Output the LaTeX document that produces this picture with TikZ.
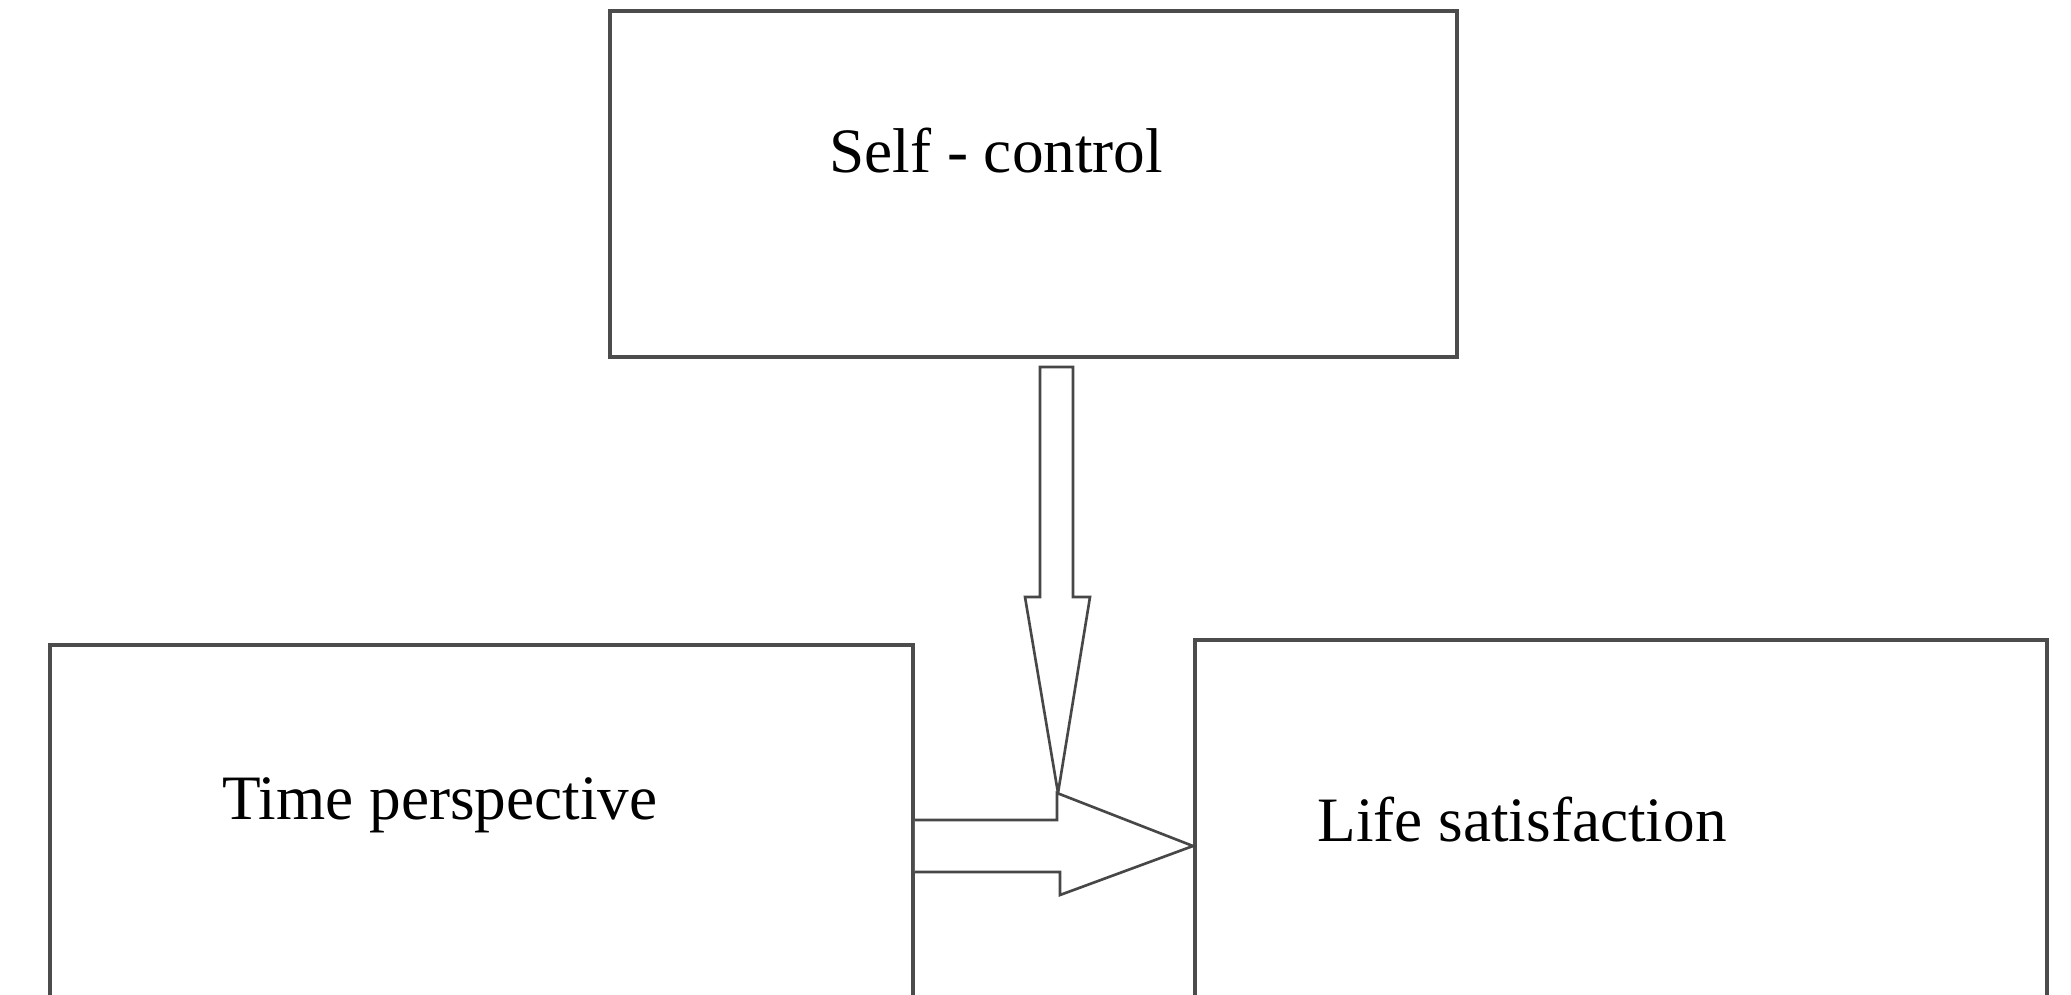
\documentclass[tikz,border=0pt]{standalone}
\usepackage{fontspec}
\setmainfont{Liberation Serif}
\begin{document}
\begin{tikzpicture}[x=0.02cm,y=-0.02cm,
  box/.style={draw=black!70,line width=2.2pt,fill=white,inner sep=0pt},
  lbl/.style={anchor=base west,inner sep=0pt,font=\fontsize{36}{40}\selectfont},
  blockarrow/.style={draw=black!72,line width=1.5pt,fill=white,line join=miter}]
\useasboundingbox[fill=white] (0,0) rectangle (2071,994);
\clip (0,0) rectangle (2071,994);
\node[box,minimum width=16.94cm,minimum height=6.92cm] (sc) at (1033.5,184) {};
\node[box,minimum width=17.26cm,minimum height=9.1cm] (tp) at (481.5,872.5) {};
\node[box,minimum width=17.04cm,minimum height=9.2cm] (ls) at (1621,870) {};
\node[lbl] (sct) at (829,172) {Self - control};
\node[lbl] (tpt) at (222,819) {Time perspective};
\node[lbl] (lst) at (1317,841) {Life satisfaction};
\coordinate (vtip) at (1058,793);
\coordinate (htip) at (1193,846);
% vertical block arrow from Self-control
\draw[blockarrow] (1040,367) -- (1073,367) -- (1073,597) -- (1090,597) -- (vtip)
  -- (1025,597) -- (1040,597) -- cycle;
% horizontal block arrow to Life satisfaction
\draw[blockarrow] (tp.east |- 0,820) -- (1057,820) -- (1057,793) -- (htip)
  -- (1060,895) -- (1060,872) -- (tp.east |- 0,872);
\end{tikzpicture}
\end{document}
